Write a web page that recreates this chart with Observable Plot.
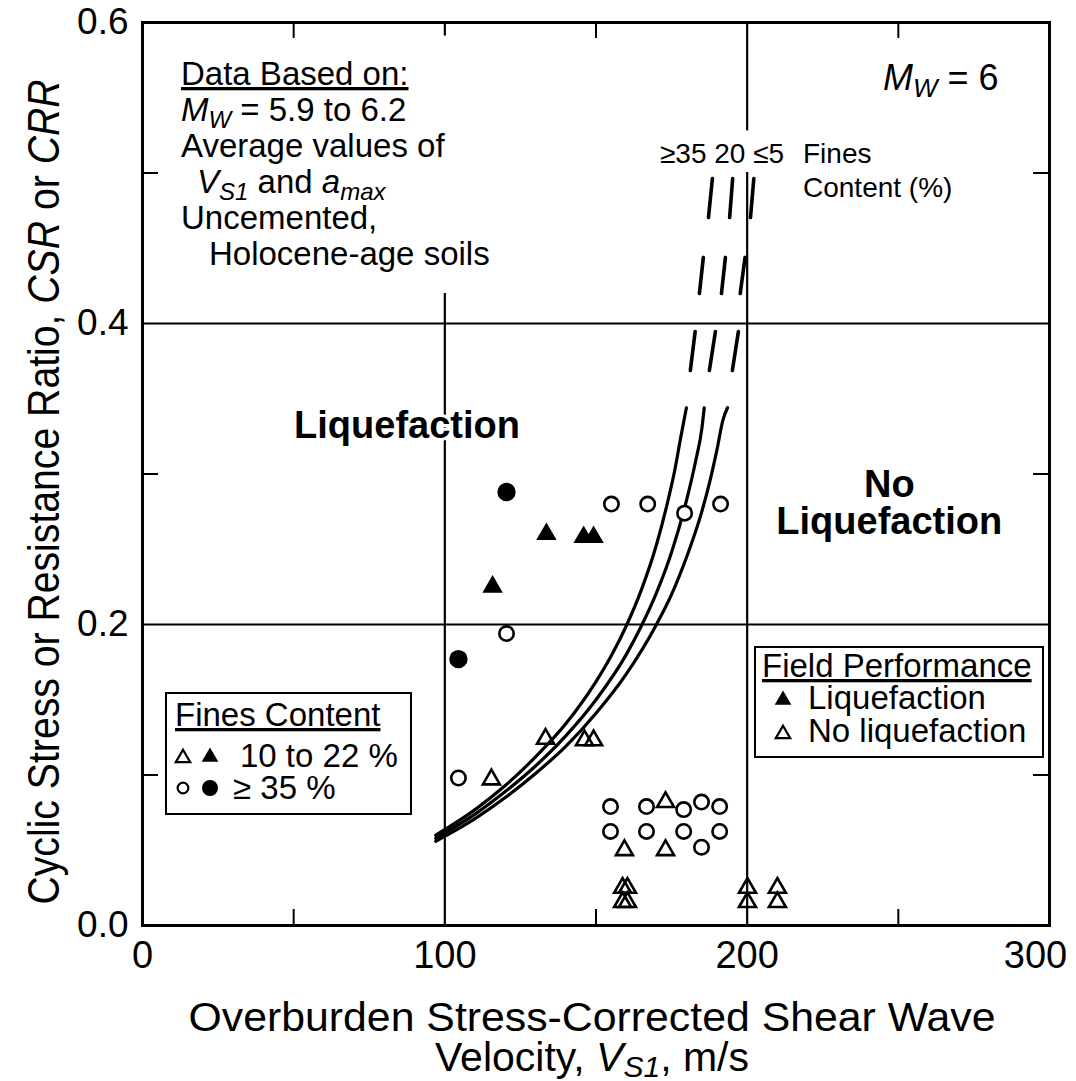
<!DOCTYPE html>
<html><head><meta charset="utf-8">
<script src="https://cdn.jsdelivr.net/npm/d3@7"></script>
<script src="https://cdn.jsdelivr.net/npm/@observablehq/plot@0.6"></script>
<style>
html,body{margin:0;padding:0;background:#fff;}
svg{display:block}
</style></head><body><div id="chart"></div>
<script>
const FONT = "'Liberation Sans', Arial, Helvetica, sans-serif";

// ---- Data ----
// CRR curves, [Vs1 (m/s), CRR]  solid parts
const curveFC35 = [[97,0.060],[110,0.077],[120,0.093],[130,0.112],[140,0.134],[150,0.162],[155,0.179],[160,0.199],[165,0.223],[170,0.253],[174,0.284],[176,0.302],[178,0.324],[179.9,0.344]];
const curveFC20 = [[97,0.058],[110,0.074],[120,0.089],[130,0.106],[140,0.126],[150,0.150],[160,0.180],[165,0.199],[170,0.221],[175,0.248],[180,0.283],[183,0.309],[185,0.330],[185.8,0.344]];
const curveFC5  = [[97,0.056],[110,0.071],[120,0.085],[130,0.101],[140,0.119],[150,0.141],[160,0.167],[170,0.200],[175,0.220],[180,0.245],[185,0.275],[188,0.298],[190,0.316],[192,0.336],[193.5,0.344]];
// dashed continuation of the curves: each dash [[vs1,crr],[vs1,crr]]
const dashFC35 = [[[188.5,0.4963],[187.2,0.4704]],[[185.5,0.4439],[184.2,0.4199]],[[182.8,0.3947],[181.2,0.3688]]];
const dashFC20 = [[[195.2,0.4963],[194.2,0.4704]],[[192.8,0.4439],[191.5,0.4199]],[[189.5,0.3947],[187.5,0.3688]]];
const dashFC5  = [[[202.2,0.4963],[201.1,0.4704]],[[199.3,0.4439],[197.7,0.4199]],[[197.1,0.3947],[195.1,0.3688]]];

// Field performance case histories [Vs1, CSR]
const liqTriangles   = [[115.8,0.225],[133.6,0.260],[145.9,0.258],[149.2,0.258]];
const liqCircles     = [[120.4,0.288],[104.5,0.177]];
const noLiqTriangles = [[115.4,0.097],[133.3,0.124],[146.2,0.123],[149.2,0.123],[173.0,0.082],[159.4,0.050],[173.0,0.050],
                        [158.8,0.025],[160.4,0.025],[158.8,0.0155],[160.4,0.0155],[200.1,0.025],[200.1,0.0155],[210.0,0.025],[210.0,0.0155]];
const noLiqCircles   = [[104.5,0.098],[120.4,0.194],[155.1,0.280],[167.1,0.280],[179.3,0.274],[191.2,0.280],
                        [154.8,0.079],[166.7,0.079],[179.0,0.077],[184.9,0.082],[190.9,0.079],
                        [154.8,0.0625],[166.7,0.0625],[179.0,0.0625],[184.9,0.052],[190.9,0.0625]];

// Axes
const xTickLabels = [0, 100, 200];
const xLastTickLabel = [300];
const yTickLabels = [0.0, 0.2, 0.4, 0.6];
const xMinorTicks = [50, 150, 250];
const yMinorTicks = [0.1, 0.3, 0.5];
const yGrid = [0.2, 0.4];
// vertical grid lines as segments (gaps where annotations sit)
const xGridSegs = [{x:100,y1:0,y2:0.42},{x:100,y1:0.591,y2:0.6},{x:200,y1:0,y2:0.5003},{x:200,y1:0.528,y2:0.6}];

const dashRows = (arr, name) => arr.flatMap((seg, i) => seg.map(p => ({vs: p[0], crr: p[1], k: name + i})));

const plot = Plot.plot({
  width: 1076, height: 1081,
  marginLeft: 142, marginRight: 27, marginTop: 22, marginBottom: 156,
  x: {domain: [0, 300], axis: null},
  y: {domain: [0, 0.6], axis: null},
  style: {fontFamily: FONT, background: "white", color: "black", overflow: "visible"},
  marks: [
    Plot.ruleY(yGrid, {stroke: "black", strokeWidth: 2.2}),
    Plot.ruleX(xGridSegs, {x: "x", y1: "y1", y2: "y2", stroke: "black", strokeWidth: 2.2}),
    Plot.ruleX(xMinorTicks, {x: d => d, y1: 0, y2: 0.0106, stroke: "black", strokeWidth: 2}),
    Plot.ruleX(xMinorTicks, {x: d => d, y1: 0.6, y2: 0.5894, stroke: "black", strokeWidth: 2}),
    Plot.ruleY(yMinorTicks, {y: d => d, x1: 0, x2: 5.3, stroke: "black", strokeWidth: 2}),
    Plot.ruleY(yMinorTicks, {y: d => d, x1: 300, x2: 294.7, stroke: "black", strokeWidth: 2}),
    // curves
    Plot.line(curveFC35, {x: d => d[0], y: d => d[1], curve: "monotone-x", stroke: "black", strokeWidth: 3.2}),
    Plot.line(curveFC20, {x: d => d[0], y: d => d[1], curve: "monotone-x", stroke: "black", strokeWidth: 3.2}),
    Plot.line(curveFC5,  {x: d => d[0], y: d => d[1], curve: "monotone-x", stroke: "black", strokeWidth: 3.2}),
    Plot.line([...dashRows(dashFC35, "a"), ...dashRows(dashFC20, "b"), ...dashRows(dashFC5, "c")],
      {x: "vs", y: "crr", z: "k", stroke: "black", strokeWidth: 3.6}),
    // points
    Plot.dot(noLiqCircles, {x: d => d[0], y: d => d[1], r: 7.2, stroke: "black", strokeWidth: 2.6, fill: "white"}),
    Plot.dot(noLiqTriangles, {x: d => d[0], y: d => d[1], symbol: "triangle", r: 6.3, stroke: "black", strokeWidth: 2.6, fill: "none"}),
    Plot.dot(liqCircles, {x: d => d[0], y: d => d[1], r: 9.2, fill: "black"}),
    Plot.dot(liqTriangles, {x: d => d[0], y: d => d[1], symbol: "triangle", r: 7.6, fill: "black"}),
    // tick labels
    Plot.text(xTickLabels, {x: d => d, frameAnchor: "bottom", dy: 42, text: d => String(d), fontSize: 38, fill: "black"}),
    Plot.text(xLastTickLabel, {x: d => d, frameAnchor: "bottom", dy: 42, dx: -14, text: d => String(d), fontSize: 38, fill: "black"}),
    Plot.text(yTickLabels, {y: d => d, frameAnchor: "left", dx: -14, textAnchor: "end", text: d => d.toFixed(1), fontSize: 37, fill: "black"}),
    // region labels
    Plot.text(["Liquefaction"], {x: 87.5, y: 0.332, text: d => d, fontSize: 38, fontWeight: "bold", fill: "black", stroke: "white", strokeWidth: 6}),
    Plot.text(["No", "Liquefaction"], {x: 247, y: (d, i) => [0.293, 0.268][i], text: d => d, fontSize: 38, fontWeight: "bold", fill: "black"}),
    Plot.frame({stroke: "black", strokeWidth: 3})
  ]
});
document.getElementById("chart").appendChild(plot);

// ---- rich text annotations (italics / subscripts / underlines) ----
const svg = d3.select(plot);
const g = svg.append("g").attr("font-family", FONT).attr("fill", "black").attr("text-anchor", "start");

function richText(x, y, segs, o) {
  const t = g.append("text").attr("x", x).attr("y", y).attr("font-size", o.size)
    .attr("text-anchor", o.anchor || "start");
  if (o.transform) t.attr("transform", o.transform);
  let shifted = 0;
  const subShift = o.subShift ?? 0.2;
  for (const s of segs) {
    const sp = t.append("tspan").text(s.t);
    if (s.i) sp.attr("font-style", "italic");
    if (s.u) sp.attr("text-decoration", "underline");
    const want = s.sub ? Math.round(o.size * subShift) : 0;
    if (want !== shifted) { sp.attr("dy", want - shifted); shifted = want; }
    if (s.sub) sp.attr("font-size", Math.round(o.size * 0.72));
  }
  if (o.len) t.attr("textLength", o.len).attr("lengthAdjust", "spacingAndGlyphs");
  return t;
}

// data-based-on block
const bx = 181, bs = 33;
richText(bx, 85, [{t: "Data Based on:", u: true}], {size: bs});
richText(bx, 121, [{t: "M", i: true}, {t: "W", i: true, sub: true}, {t: " = 5.9 to 6.2"}], {size: bs});
richText(bx, 157, [{t: "Average values of"}], {size: bs});
richText(bx + 16, 193, [{t: "V", i: true}, {t: "S1", i: true, sub: true}, {t: " and "}, {t: "a", i: true}, {t: "max", i: true, sub: true}], {size: bs});
richText(bx, 229, [{t: "Uncemented,"}], {size: bs});
richText(bx + 28, 265, [{t: "Holocene-age soils"}], {size: bs});

// Mw = 6
richText(883, 90, [{t: "M", i: true}, {t: "W", i: true, sub: true}, {t: " = 6"}], {size: 36});

// fines content labels on curves
richText(660, 163, [{t: "≥35 20 ≤5"}], {size: 28});
richText(803, 163, [{t: "Fines"}], {size: 28});
richText(803, 197, [{t: "Content (%)"}], {size: 28});

// Fines content legend box
g.append("rect").attr("x", 166).attr("y", 693).attr("width", 245).attr("height", 121)
  .attr("fill", "white").attr("stroke", "black").attr("stroke-width", 2);
richText(175, 726, [{t: "Fines Content", u: true}], {size: 33});
const tri = d3.symbol(d3.symbolTriangle), circ = d3.symbol(d3.symbolCircle);
g.append("path").attr("d", tri.size(90)()).attr("transform", "translate(183,758)").attr("fill", "none").attr("stroke", "black").attr("stroke-width", 2.2);
g.append("path").attr("d", tri.size(120)()).attr("transform", "translate(210,757)").attr("fill", "black");
richText(240, 767, [{t: "10 to 22 %"}], {size: 33});
g.append("path").attr("d", circ.size(90)()).attr("transform", "translate(183,788)").attr("fill", "none").attr("stroke", "black").attr("stroke-width", 2.2);
g.append("path").attr("d", circ.size(200)()).attr("transform", "translate(210,788)").attr("fill", "black");
richText(233, 799, [{t: "≥ 35 %"}], {size: 33});

// Field performance legend box
g.append("rect").attr("x", 755).attr("y", 647).attr("width", 288).attr("height", 110)
  .attr("fill", "white").attr("stroke", "black").attr("stroke-width", 2);
richText(762, 677, [{t: "Field Performance", u: true}], {size: 33});
g.append("path").attr("d", tri.size(120)()).attr("transform", "translate(783,700)").attr("fill", "black");
richText(808, 709, [{t: "Liquefaction"}], {size: 33});
g.append("path").attr("d", tri.size(90)()).attr("transform", "translate(783,734)").attr("fill", "none").attr("stroke", "black").attr("stroke-width", 2.2);
richText(808, 742, [{t: "No liquefaction"}], {size: 33});

// axis titles
richText(592, 1031, [{t: "Overburden Stress-Corrected Shear Wave"}], {size: 41, anchor: "middle", len: 807});
richText(592, 1071, [{t: "Velocity, "}, {t: "V", i: true}, {t: "S1", i: true, sub: true}, {t: ", m/s"}], {size: 41, anchor: "middle", subShift: 0.14});
richText(0, 0, [{t: "Cyclic Stress or Resistance Ratio, "}, {t: "CSR", i: true}, {t: " or "}, {t: "CRR", i: true}],
  {size: 44, anchor: "middle", len: 825, transform: "translate(59,492) rotate(-90)"});
</script></body></html>
